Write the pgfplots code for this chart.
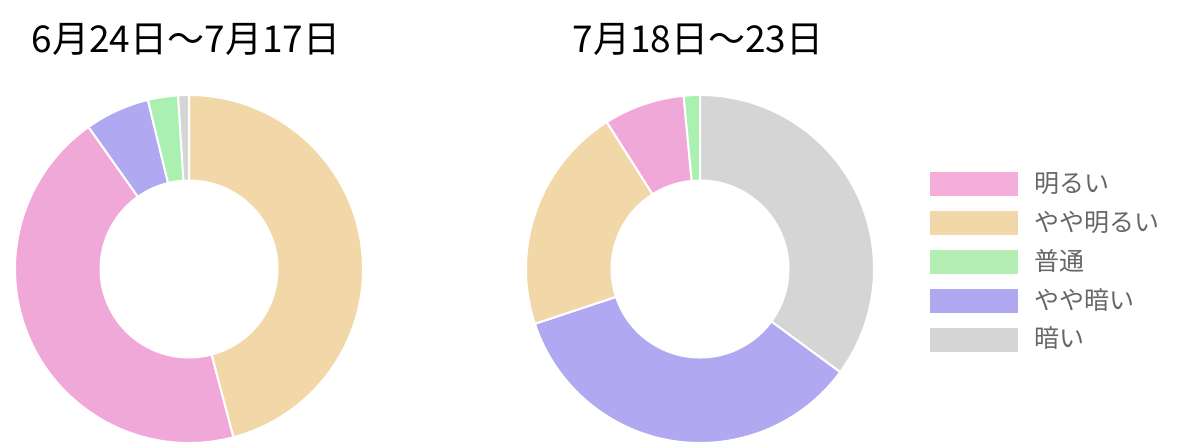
\documentclass[border=0pt]{standalone}
\usepackage{fontspec}
\setmainfont{Noto Sans CJK JP}
\usepackage{pgfplots}
\pgfplotsset{compat=1.18}
\usepackage{pgfplotstable}

\definecolor{cpink}{RGB}{240,168,216}
\definecolor{cbeige}{RGB}{242,216,168}
\definecolor{cgreen}{RGB}{170,240,176}
\definecolor{cpurple}{RGB}{176,168,240}
\definecolor{cgray}{RGB}{213,213,213}
\definecolor{lpink}{RGB}{245,174,218}
\definecolor{lgreen}{RGB}{180,238,180}
\definecolor{legtext}{RGB}{102,102,102}

% clockwise from the top, in percent
\pgfplotstableread{
label val col
やや明るい 45.9 cbeige
明るい 44.3 cpink
やや暗い 6.0 cpurple
普通 2.8 cgreen
暗い 1.0 cgray
}\first
\pgfplotstableread{
label val col
暗い 35.1 cgray
やや暗い 34.8 cpurple
やや明るい 21.1 cbeige
明るい 7.5 cpink
普通 1.5 cgreen
}\second

% #1 table, #2 centre x, #3 centre y (axis units = pt)
\newcommand\donut[3]{%
  \def\segacc{0}%
  \pgfplotstablegetrowsof{#1}%
  \pgfmathtruncatemacro\segrows{\pgfplotsretval-1}%
  \pgfplotsforeachungrouped \i in {0,...,\segrows}{%
    \pgfplotstablegetelem{\i}{val}\of{#1}\let\segval\pgfplotsretval
    \pgfplotstablegetelem{\i}{col}\of{#1}\let\segcol\pgfplotsretval
    \pgfmathsetmacro\aone{\segacc*3.6}%
    \pgfmathsetmacro\atwo{(\segacc+\segval)*3.6}%
    \pgfmathsetmacro\segacc{\segacc+\segval}%
    \edef\temp{\noexpand\fill[\segcol, draw=white, line width=2pt]
      (axis cs:{#2+174*sin(\aone)},{#3+174*cos(\aone)})
      arc[start angle={90-\aone}, end angle={90-\atwo}, radius=174pt]
      -- (axis cs:{#2+88.5*sin(\atwo)},{#3+88.5*cos(\atwo)})
      arc[start angle={90-\atwo}, end angle={90-\aone}, radius=88.5pt]
      -- cycle;}%
    \temp
  }%
}

\begin{document}
\begin{tikzpicture}
\useasboundingbox (0,0) rectangle (1193pt,445pt);
\begin{axis}[
  at={(0,0)}, anchor=south west,
  width=1193pt, height=445pt, scale only axis,
  xmin=0, xmax=1193, ymin=0, ymax=445,
  hide axis, clip=false,
  legend image code/.code={\fill[#1] (0pt,-11.5pt) rectangle (87pt,11.5pt);},
  legend style={
    draw=none, fill=none,
    at={(0.7770,0.6180)}, anchor=north west,
    row sep=15.5pt,
    font=\fontsize{25}{25}\selectfont\color{legtext},
    nodes={inner sep=0pt, text height=20pt, text depth=3pt},
    /tikz/every odd column/.append style={column sep=17pt},
  },
  legend cell align=left,
]
\donut{\first}{189}{176}
\donut{\second}{700}{176}

\addlegendimage{lpink}\addlegendentry{明るい}
\addlegendimage{cbeige}\addlegendentry{やや明るい}
\addlegendimage{lgreen}\addlegendentry{普通}
\addlegendimage{cpurple}\addlegendentry{やや暗い}
\addlegendimage{cgray}\addlegendentry{暗い}

\node[font=\fontsize{37}{37}\selectfont] at (axis cs:186,406) {6月24日～7月17日};
\node[font=\fontsize{37}{37}\selectfont] at (axis cs:698,406) {7月18日～23日};
\end{axis}
\end{tikzpicture}
\end{document}
